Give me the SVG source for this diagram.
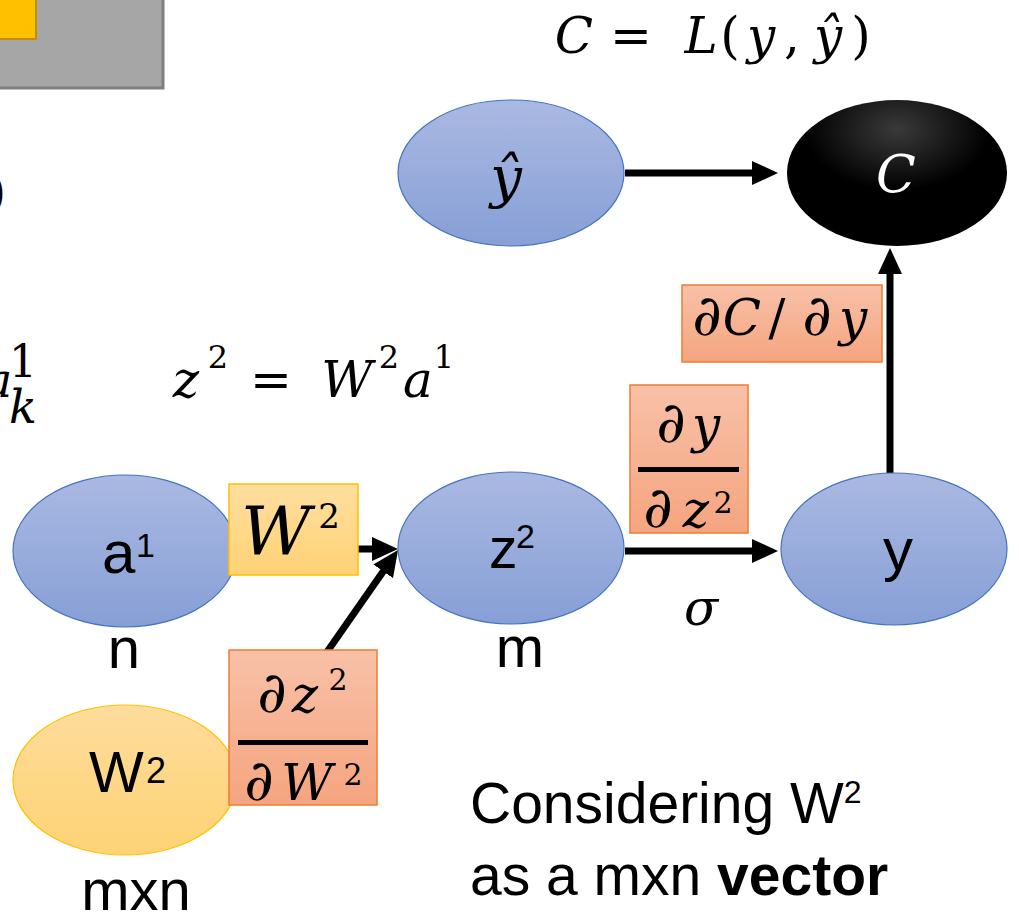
<svg xmlns="http://www.w3.org/2000/svg" width="1019" height="922" viewBox="0 0 1019 922">
<defs>
<linearGradient id="gBlue" x1="0" y1="0" x2="0" y2="1"><stop offset="0" stop-color="#aab9e2"/><stop offset="1" stop-color="#879fd6"/></linearGradient>
<linearGradient id="gYel" x1="0" y1="0" x2="0" y2="1"><stop offset="0" stop-color="#fedc9c"/><stop offset="1" stop-color="#fed374"/></linearGradient>
<linearGradient id="gYelBox" x1="0" y1="0" x2="0" y2="1"><stop offset="0" stop-color="#ffdea0"/><stop offset="1" stop-color="#ffd274"/></linearGradient>
<linearGradient id="gSal" x1="0" y1="0" x2="0" y2="1"><stop offset="0" stop-color="#f8c1a8"/><stop offset="1" stop-color="#f5a47f"/></linearGradient>
<radialGradient id="gBlack" cx="0.5" cy="0.2" r="0.7"><stop offset="0" stop-color="#3a3a3a"/><stop offset="0.6" stop-color="#000"/><stop offset="1" stop-color="#000"/></radialGradient>
<marker id="ah" markerUnits="userSpaceOnUse" markerWidth="26" markerHeight="24" refX="6" refY="12" orient="auto"><path d="M0,0 L26,12 L0,24 z" fill="#000"/></marker>
<style>
.blue{fill:url(#gBlue);stroke:#4472c4;stroke-width:1.2}
.yel{fill:url(#gYel);stroke:#ffc000;stroke-width:1.2}
.sal{fill:url(#gSal);stroke:#ed7d31;stroke-width:1.5}
.conn{stroke:#000;stroke-width:7;fill:none;marker-end:url(#ah)}
.sans{font-family:"Liberation Sans",Arial,sans-serif;fill:#000}
.math{font-family:"DejaVu Serif","Liberation Serif",serif;font-style:italic;fill:#000;text-anchor:middle}
.up{font-style:normal}
.pd{font-size:57px}
</style>
</defs>
<rect width="1019" height="922" fill="#fff"/>
<g id="corner">
<rect x="-5" y="-5" width="168" height="93" fill="#a6a6a6" stroke="#7f7f7f" stroke-width="3"/>
<rect x="-5" y="-5" width="41" height="44" fill="#ffc000" stroke="#bf9000" stroke-width="2"/>
</g>
<g id="left-fragments">
<text class="math up" x="-3" y="208" font-size="46">)</text>
<text class="math" x="-2" y="397" font-size="48">a</text>
<text class="math up" x="23" y="377" font-size="44">1</text>
<text class="math" x="23" y="423" font-size="46">k</text>
</g>
<g id="formula-top" font-size="50">
<text class="math" x="574" y="53">C</text><text class="math up" x="631" y="53">=</text><text class="math" x="701" y="53">L</text><text class="math up" x="730" y="53">(</text><text class="math" x="761" y="53">y</text><text class="math up" x="792" y="53">,</text><text class="math" x="828" y="53">ŷ</text><text class="math up" x="861" y="53">)</text>
</g>
<g id="formula-z" font-size="50">
<text class="math" x="186" y="397">z</text><text class="math up" x="218" y="368" font-size="32">2</text><text class="math up" x="271" y="397">=</text><text class="math" x="347" y="397">W</text><text class="math up" x="389" y="368" font-size="32">2</text><text class="math" x="418" y="397">a</text><text class="math up" x="444" y="368" font-size="32">1</text>
</g>
<g id="connectors">
<line class="conn" x1="625" y1="173" x2="758" y2="173"/>
<line class="conn" x1="237" y1="549" x2="378" y2="549"/>
<line class="conn" x1="290" y1="705" x2="386.6" y2="566.4"/>
<line class="conn" x1="625" y1="551" x2="758" y2="551"/>
<line class="conn" x1="890" y1="473" x2="890" y2="268"/>
</g>
<g id="node-yhat"><ellipse class="blue" cx="511" cy="173" rx="113" ry="73"/><text class="math" x="506" y="197" font-size="56">ŷ</text></g>
<g id="node-C"><ellipse cx="897" cy="173" rx="110" ry="73" fill="url(#gBlack)"/><text class="math" x="896" y="192" font-size="52" style="fill:#fff">C</text></g>
<g id="node-a1"><ellipse class="blue" cx="125" cy="551" rx="112" ry="76"/><text class="sans" x="102" y="573" font-size="60">a</text><text class="sans" x="136" y="557" font-size="34">1</text><text class="sans" x="124" y="668" font-size="58" text-anchor="middle">n</text></g>
<g id="node-z2"><ellipse class="blue" cx="511" cy="548" rx="113" ry="76"/><text class="sans" x="489" y="568" font-size="57">z</text><text class="sans" x="516" y="548" font-size="34">2</text><text class="sans" x="520" y="667" font-size="58" text-anchor="middle">m</text></g>
<g id="node-y"><ellipse class="blue" cx="894" cy="549" rx="113" ry="76"/><text class="sans" x="898" y="570" font-size="60" text-anchor="middle">y</text></g>
<g id="node-W2"><ellipse class="yel" cx="125" cy="780" rx="112" ry="75"/><text class="sans" x="89" y="792" font-size="58">W</text><text class="sans" x="146" y="783" font-size="36">2</text><text class="sans" x="136" y="910" font-size="58" text-anchor="middle">mxn</text></g>
<g id="label-W2-box"><rect x="229" y="484" width="129" height="91" fill="url(#gYelBox)" stroke="#ffc000" stroke-width="1.5"/><text class="math" x="276" y="555" font-size="68">W</text><text class="math up" x="329" y="528" font-size="34">2</text></g>
<g id="label-dz-dW"><rect x="229" y="650" width="148" height="155" class="sal"/><text class="math pd" x="272" y="712">∂</text><text class="math" x="305" y="712" font-size="50">z</text><text class="math up" x="338" y="690" font-size="30">2</text><rect x="238" y="740" width="130" height="5" fill="#000"/><text class="math pd" x="259" y="800">∂</text><text class="math" x="307" y="800" font-size="50">W</text><text class="math up" x="353" y="785" font-size="30">2</text></g>
<g id="label-dy-dz"><rect x="630" y="385" width="118" height="148" class="sal"/><text class="math pd" x="671" y="442">∂</text><text class="math" x="706" y="442" font-size="50">y</text><rect x="638" y="467" width="101" height="5" fill="#000"/><text class="math pd" x="658" y="527">∂</text><text class="math" x="696" y="527" font-size="50">z</text><text class="math up" x="723" y="513" font-size="30">2</text></g>
<g id="label-sigma"><text class="math" x="701" y="625" font-size="50">σ</text></g>
<g id="label-dC-dy"><rect x="682" y="285" width="200" height="77" class="sal"/><g font-size="50"><text class="math pd" x="707" y="335">∂</text><text class="math" x="742" y="335">C</text><text class="math up" x="777" y="335">/</text><text class="math pd" x="817" y="335">∂</text><text class="math" x="853" y="335">y</text></g></g>
<g id="note"><text class="sans" x="470" y="823" font-size="57">Considering W<tspan font-size="32" dy="-20">2</tspan></text><text class="sans" x="470" y="895" font-size="57">as a mxn <tspan font-weight="bold">vector</tspan></text></g>
</svg>
